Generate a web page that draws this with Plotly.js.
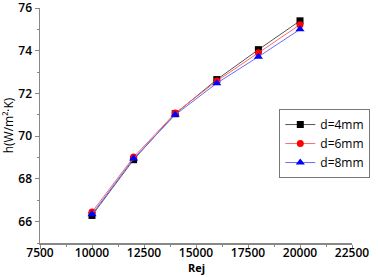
<!DOCTYPE html>
<html><head><meta charset="utf-8">
<script src="https://cdn.plot.ly/plotly-3.0.1.min.js"></script>
<style>html,body{margin:0;padding:0;background:#fff}#c{width:378px;height:277px}</style>
</head><body><div id="c"></div>
<script>
const rej = [10000, 12000, 14000, 16000, 18000, 20000];
const h4 = [66.29, 68.9, 71.05, 72.65, 74.05, 75.4];
const h6 = [66.45, 69.02, 71.08, 72.58, 73.9, 75.22];
const h8 = [66.35, 68.95, 71.0, 72.48, 73.72, 75.0];
const names = ['d=4mm', 'd=6mm', 'd=8mm'];
const xTitle = 'Rej';
const yTitle = 'h(W/m²·K)';

const font = {family: 'Open Sans, sans-serif', size: 12, color: '#000', weight: 600};
const traces = [
  {x: rej, y: h4, name: names[0], mode: 'lines+markers', line: {color: '#555', width: 1}, marker: {symbol: 'square', color: '#000', size: 7}},
  {x: rej, y: h6, name: names[1], mode: 'lines+markers', line: {color: '#ff6b6b', width: 1}, marker: {symbol: 'circle', color: '#ff0000', size: 7}},
  {x: rej, y: h8, name: names[2], mode: 'lines+markers', line: {color: '#6b6bff', width: 1}, marker: {symbol: 'triangle-up', color: '#0000ff', size: 8}}
];
const axisCommon = {
  showgrid: false, zeroline: false, showline: true, linecolor: '#888', linewidth: 1.5,
  ticks: 'outside', ticklen: 4, tickcolor: '#888', tickwidth: 1, tickfont: font, automargin: false,
  ticklabeloverflow: 'allow'
};
const layout = {
  width: 378, height: 277,
  margin: {l: 40, r: 12, t: 8, b: 34},
  paper_bgcolor: '#fff', plot_bgcolor: '#fff',
  showlegend: true,
  legend: {x: 0.767, y: 0.57, xanchor: 'left', yanchor: 'top', bordercolor: '#777', borderwidth: 1,
           font: {family: 'Open Sans, sans-serif', size: 12, color: '#000'}, tracegroupgap: 0, itemwidth: 30, bgcolor: '#fff'},
  xaxis: Object.assign({}, axisCommon, {range: [7500, 22500], dtick: 2500, tick0: 7500, tickformat: 'd',
    ticklabelstandoff: -6,
    minor: {dtick: 1250, ticklen: 2, tickcolor: '#888', ticks: 'outside'}}),
  yaxis: Object.assign({}, axisCommon, {range: [65, 76.0], dtick: 2, tick0: 66, tickformat: 'd',
    minor: {dtick: 1, ticklen: 2, tickcolor: '#888', ticks: 'outside'},
    title: {text: yTitle, font: {family: 'Open Sans, sans-serif', size: 12, color: '#000'}, standoff: 2}}),
  annotations: [{text: xTitle, xref: 'paper', yref: 'paper', x: 0.5, y: -0.1447, xanchor: 'center', yanchor: 'bottom',
    showarrow: false, font: {family: 'Open Sans, sans-serif', size: 11, color: '#000', weight: 700}}]
};
Plotly.newPlot('c', traces, layout, {staticPlot: true, displayModeBar: false});
</script></body></html>
